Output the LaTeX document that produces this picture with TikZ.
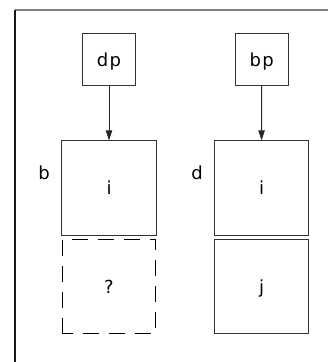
\documentclass[tikz,border=0pt]{standalone}
\usepackage{fontspec}
\usetikzlibrary{arrows.meta}
\newfontfamily\lblfont{DejaVu Sans}[LetterSpace=8]
\tikzset{
  lbl/.style={font=\lblfont\fontsize{18}{21}\selectfont, text height=13.5pt, text depth=0pt, inner sep=0pt},
  box/.style={lbl, draw=black!80, line width=0.9pt, minimum width=#1, minimum height=#1},
  box/.default=94pt,
  dashbox/.style={box=93.5pt, draw=black, dash pattern=on 16pt off 10pt, dash phase=5pt},
  conn/.style={draw=black!85, line width=0.9pt, -{Triangle[length=10pt,width=6.5pt]}},
}
\begin{document}
\begin{tikzpicture}[x=1pt,y=-1pt]
\useasboundingbox (0,0) rectangle (328,362);
% frame
\coordinate (fc) at (15,9.8);
\coordinate (ftr) at (330,9.8);
\coordinate (fbl) at (15,364);
\draw[black!50, line width=1.6pt] (fc) -- (ftr);
\draw[black!90, line width=1.3pt] (fc) -- (fbl);
% nodes
\node[box=52.5pt] (dp) at (109,59.5) {dp};
\node[box=52.5pt] (bp) at (261.7,59.5) {bp};
\node[box=94.5pt] (bi) at (109,188) {i};
\node[dashbox] (q) at (109,286.5) {?};
\node[box=94.5pt] (di) at (261.5,188) {i};
\node[box=94.5pt] (j) at (261.5,286.5) {j};
\node[lbl] (lb) at (44,173) {b};
\node[lbl] (ld) at (197,173) {d};
% connectors
\draw[conn] (dp) -- (bi);
\draw[conn] (bp) -- (di);
\end{tikzpicture}
\end{document}
